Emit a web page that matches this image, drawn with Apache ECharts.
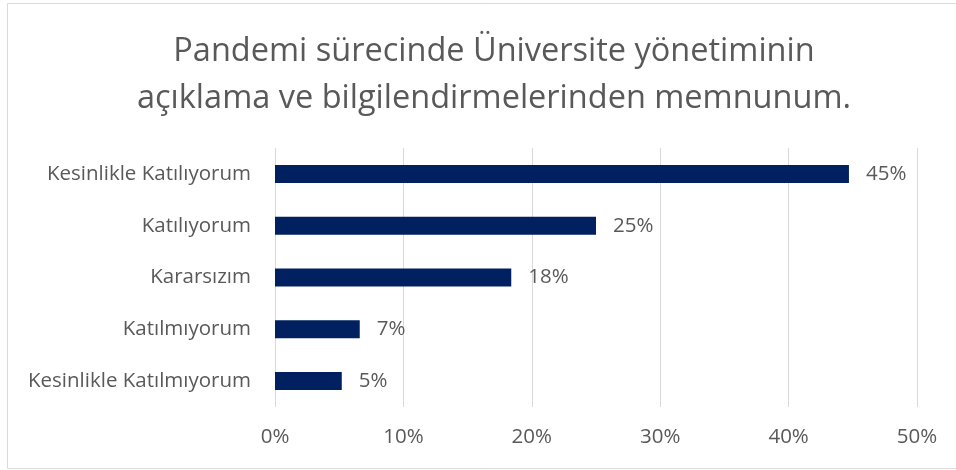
<!DOCTYPE html>
<html>
<head>
<meta charset="utf-8">
<script src="https://cdn.jsdelivr.net/npm/echarts@6/dist/echarts.min.js"></script>
<style>
    html, body { margin: 0; padding: 0; background: #fff; }
    #main { width: 956px; height: 470px; }
</style>
</head>
<body>
<div id="main"></div>
<script>
    // veriler
    var categories = ['Kesinlikle Katılıyorum', 'Katılıyorum', 'Kararsızım', 'Katılmıyorum', 'Kesinlikle Katılmıyorum'];
    var values = [44.7, 25.0, 18.4, 6.6, 5.2];
    var tickLabels = ['0%', '10%', '20%', '30%', '40%', '50%'];

    var fontName = '"Open Sans", "Noto Sans", sans-serif';
    var textColor = '#595959';

    var myChart = echarts.init(document.getElementById('main'));
    var option = {
        animation: false,
        backgroundColor: '#fff',
        title: {
            text: 'Pandemi sürecinde Üniversite yönetiminin\naçıklama ve bilgilendirmelerinden memnunum.',
            left: 489,
            top: 23,
            textAlign: 'center',
            textStyle: {
                fontFamily: fontName,
                fontSize: 32.5,
                fontWeight: 'normal',
                color: textColor,
                lineHeight: 47
            }
        },
        graphic: [{
            type: 'rect',
            shape: { x: 7.5, y: 3.5, width: 960, height: 465 },
            style: { fill: 'none', stroke: '#d9d9d9', lineWidth: 1 },
            silent: true
        }],
        grid: {
            left: 275,
            right: 39,
            top: 148,
            bottom: 63
        },
        xAxis: {
            type: 'value',
            min: 0,
            max: 50,
            interval: 10,
            axisLine: { show: false },
            axisTick: { show: false },
            splitLine: { lineStyle: { color: '#d9d9d9', width: 1 } },
            axisLabel: {
                margin: 20,
                fontFamily: fontName,
                fontSize: 20.5,
                color: textColor,
                formatter: function (v) { return tickLabels[Math.round(v / 10)]; }
            }
        },
        yAxis: {
            type: 'category',
            inverse: true,
            data: categories,
            axisLine: { show: false },
            axisTick: { show: false },
            axisLabel: {
                margin: 24,
                fontFamily: fontName,
                fontSize: 20.5,
                color: textColor
            }
        },
        series: [{
            type: 'bar',
            data: values,
            barWidth: 18,
            itemStyle: { color: '#002060' },
            label: {
                show: true,
                position: 'right',
                distance: 17,
                fontFamily: fontName,
                fontSize: 20.5,
                color: textColor,
                formatter: function (p) { return Math.round(p.value) + '%'; }
            }
        }]
    };
    myChart.setOption(option);
</script>
</body>
</html>
